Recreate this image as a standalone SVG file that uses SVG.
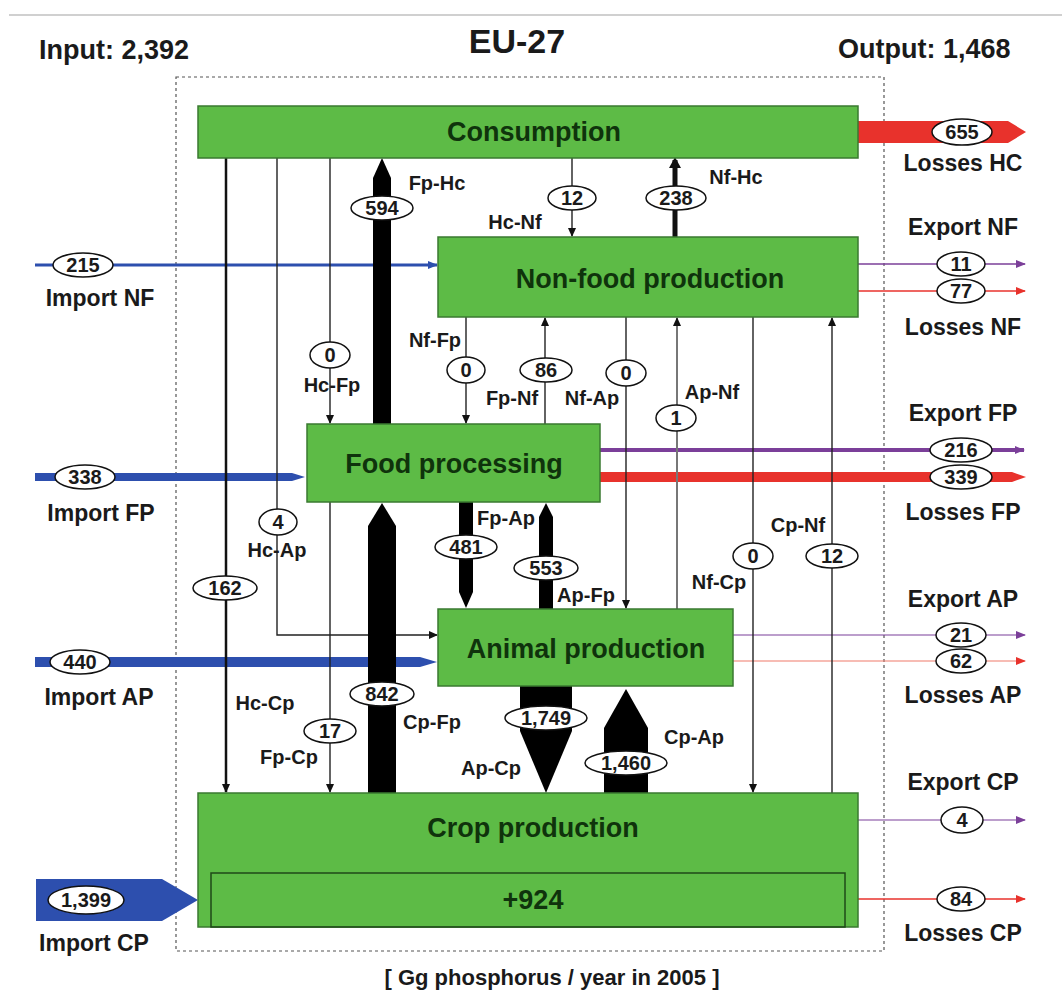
<svg xmlns="http://www.w3.org/2000/svg" width="1062" height="994" viewBox="0 0 1062 994">
<style>
text{font-family:"Liberation Sans",Arial,sans-serif;font-weight:bold;fill:#1a1a1a}
.hd{font-size:27px}
.node{fill:#5dbb46;stroke:#3a7a30;stroke-width:1.5}
.nt{font-size:27px;fill:#0f330c;text-anchor:middle}
.lab{font-size:20px;text-anchor:middle}
.side{font-size:23px;text-anchor:middle}
.ell{fill:#fff;stroke:#111;stroke-width:1.5}
.num{font-size:20px;text-anchor:middle}
.thin{stroke:#222;stroke-width:1.4;fill:none}
</style>
<defs>
<marker id="ak" markerUnits="userSpaceOnUse" markerWidth="9" markerHeight="9" refX="8" refY="4.5" orient="auto"><path d="M0,0.5 L9,4.5 L0,8.5 z" fill="#111"/></marker>
<marker id="ab" markerUnits="userSpaceOnUse" markerWidth="10" markerHeight="10" refX="9" refY="5" orient="auto"><path d="M0,1 L10,5 L0,9 z" fill="#2d4fae"/></marker>
<marker id="ap" markerUnits="userSpaceOnUse" markerWidth="10" markerHeight="10" refX="9" refY="5" orient="auto"><path d="M0,1 L10,5 L0,9 z" fill="#7b3f99"/></marker>
<marker id="ar" markerUnits="userSpaceOnUse" markerWidth="10" markerHeight="10" refX="9" refY="5" orient="auto"><path d="M0,1 L10,5 L0,9 z" fill="#e8322c"/></marker>
</defs>
<rect width="1062" height="994" fill="#fff"/>
<line x1="9" y1="15" x2="1062" y2="15" stroke="#d0d0d0" stroke-width="2"/>
<text class="hd" x="39" y="59">Input: 2,392</text>
<text x="517" y="53" style="font-size:34px" text-anchor="middle">EU-27</text>
<text class="hd" x="838" y="58">Output: 1,468</text>
<rect x="176" y="77" width="708" height="874" fill="none" stroke="#555" stroke-width="1.2" stroke-dasharray="3,3"/>

<g id="connectors">
<line x1="35" y1="265" x2="437" y2="265" stroke="#2d4fae" stroke-width="3" marker-end="url(#ab)"/>
<polygon points="35,473 292,473 305,477 292,481 35,481" fill="#2d4fae"/>
<polygon points="35,657 420,657 437,662 420,667 35,667" fill="#2d4fae"/>
<polygon points="36,879 162,879 198,900 162,921 36,921" fill="#2d4fae"/>
<polygon points="858,121 1008,121 1026,132 1008,143 858,143" fill="#e8322c"/>
<line x1="858" y1="264" x2="1025" y2="264" stroke="#7b3f99" stroke-width="1.3" marker-end="url(#ap)"/>
<line x1="858" y1="291" x2="1025" y2="291" stroke="#e8322c" stroke-width="1.3" marker-end="url(#ar)"/>
<line x1="600" y1="450" x2="1024" y2="450" stroke="#7b3f99" stroke-width="4" marker-end="url(#ap)"/>
<polygon points="600,472 1012,472 1026,477 1012,482 600,482" fill="#e8322c"/>
<line x1="733" y1="635" x2="1025" y2="635" stroke="#7b3f99" stroke-width="1.2" marker-end="url(#ap)"/>
<line x1="733" y1="661" x2="1025" y2="661" stroke="#f07a6a" stroke-width="1.2" marker-end="url(#ar)"/>
<line x1="858" y1="820" x2="1025" y2="820" stroke="#7b3f99" stroke-width="1.2" marker-end="url(#ap)"/>
<line x1="858" y1="899" x2="1025" y2="899" stroke="#e8322c" stroke-width="1.3" marker-end="url(#ar)"/>
<line x1="226" y1="158" x2="226" y2="792" stroke="#111" stroke-width="2.5" marker-end="url(#ak)"/>
<polyline points="277,158 277,635 437,635" class="thin" stroke="#444" marker-end="url(#ak)"/>
<line x1="330" y1="158" x2="330" y2="423" class="thin" marker-end="url(#ak)"/>
<line x1="330" y1="502" x2="330" y2="792" class="thin" marker-end="url(#ak)"/>
<line x1="572" y1="158" x2="572" y2="236" class="thin" marker-end="url(#ak)"/>
<line x1="675" y1="237" x2="675" y2="160" stroke="#111" stroke-width="5"/>
<polygon points="669,168 675,157 681,168" fill="#111"/>
<line x1="466" y1="317" x2="466" y2="423" class="thin" marker-end="url(#ak)"/>
<line x1="545" y1="424" x2="545" y2="318" class="thin" marker-end="url(#ak)"/>
<line x1="626" y1="317" x2="626" y2="608" class="thin" marker-end="url(#ak)"/>
<line x1="677" y1="609" x2="677" y2="318" stroke="#777" stroke-width="2" marker-end="url(#ak)"/>
<line x1="753" y1="317" x2="753" y2="792" class="thin" marker-end="url(#ak)"/>
<line x1="832" y1="793" x2="832" y2="318" class="thin" marker-end="url(#ak)"/>
<polygon points="373,424 373,178 382,158 391,178 391,424" fill="#000"/>
<polygon points="368,793 368,526 382,503 396,526 396,793" fill="#000"/>
<polygon points="459,502 459,592 466,608 473,592 473,502" fill="#000"/>
<polygon points="539,609 539,517 546,503 553,517 553,609" fill="#000"/>
<polygon points="520,686 572,686 572,731 546,793 520,731" fill="#000"/>
<polygon points="604,793 604,728 626,689 648,728 648,793" fill="#000"/>
</g>

<g id="consumption"><rect class="node" x="198" y="106" width="660" height="52"/><text class="nt" x="534" y="141">Consumption</text></g>
<g id="nonfood"><rect class="node" x="438" y="237" width="420" height="80"/><text class="nt" x="650" y="288">Non-food production</text></g>
<g id="foodproc"><rect class="node" x="307" y="424" width="293" height="78"/><text class="nt" x="454" y="473">Food processing</text></g>
<g id="animal"><rect class="node" x="438" y="609" width="295" height="77"/><text class="nt" x="586" y="658">Animal production</text></g>
<g id="crop"><rect class="node" x="198" y="793" width="660" height="134"/><text class="nt" x="533" y="837">Crop production</text>
<rect x="211" y="873" width="634" height="54" fill="none" stroke="#1f4a18" stroke-width="1.5"/><text class="nt" x="533" y="909">+924</text></g>

<g id="labels">
<g class="ell">
<ellipse cx="382" cy="208" rx="31" ry="12"/>
<ellipse cx="572" cy="198" rx="24" ry="12"/>
<ellipse cx="676" cy="198" rx="30" ry="12"/>
<ellipse cx="83" cy="265" rx="30" ry="12"/>
<ellipse cx="961" cy="264" rx="24" ry="12"/>
<ellipse cx="961" cy="291" rx="24" ry="12"/>
<ellipse cx="330" cy="355" rx="20" ry="13"/>
<ellipse cx="466" cy="370" rx="19" ry="13"/>
<ellipse cx="546" cy="370" rx="26" ry="12"/>
<ellipse cx="626" cy="373" rx="20" ry="13"/>
<ellipse cx="676" cy="418" rx="20" ry="13"/>
<ellipse cx="961" cy="450" rx="31" ry="12"/>
<ellipse cx="961" cy="477" rx="31" ry="12"/>
<ellipse cx="85" cy="477" rx="30" ry="12"/>
<ellipse cx="278" cy="522" rx="19" ry="13"/>
<ellipse cx="466" cy="547" rx="31" ry="12"/>
<ellipse cx="546" cy="568" rx="32" ry="12"/>
<ellipse cx="753" cy="556" rx="20" ry="13"/>
<ellipse cx="832" cy="556" rx="26" ry="12"/>
<ellipse cx="225" cy="588" rx="32" ry="12"/>
<ellipse cx="961" cy="635" rx="25" ry="12"/>
<ellipse cx="961" cy="661" rx="25" ry="12"/>
<ellipse cx="80" cy="662" rx="30" ry="12"/>
<ellipse cx="382" cy="694" rx="32" ry="12"/>
<ellipse cx="330" cy="731" rx="26" ry="12"/>
<ellipse cx="546" cy="718" rx="41" ry="12"/>
<ellipse cx="626" cy="763" rx="41" ry="12"/>
<ellipse cx="962" cy="820" rx="21" ry="13"/>
<ellipse cx="961" cy="899" rx="24" ry="12"/>
<ellipse cx="962" cy="132" rx="30" ry="13"/>
<ellipse cx="86" cy="900" rx="38" ry="14"/>
</g>
<text class="num" x="382" y="215">594</text>
<text class="num" x="572" y="205">12</text>
<text class="num" x="676" y="205">238</text>
<text class="num" x="83" y="272">215</text>
<text class="num" x="961" y="271">11</text>
<text class="num" x="961" y="298">77</text>
<text class="num" x="330" y="362">0</text>
<text class="num" x="466" y="377">0</text>
<text class="num" x="546" y="377">86</text>
<text class="num" x="626" y="380">0</text>
<text class="num" x="676" y="425">1</text>
<text class="num" x="961" y="457">216</text>
<text class="num" x="961" y="484">339</text>
<text class="num" x="85" y="484">338</text>
<text class="num" x="278" y="529">4</text>
<text class="num" x="466" y="554">481</text>
<text class="num" x="546" y="575">553</text>
<text class="num" x="753" y="563">0</text>
<text class="num" x="832" y="563">12</text>
<text class="num" x="225" y="595">162</text>
<text class="num" x="961" y="642">21</text>
<text class="num" x="961" y="668">62</text>
<text class="num" x="80" y="669">440</text>
<text class="num" x="382" y="701">842</text>
<text class="num" x="330" y="738">17</text>
<text class="num" x="546" y="725">1,749</text>
<text class="num" x="626" y="770">1,460</text>
<text class="num" x="962" y="827">4</text>
<text class="num" x="961" y="906">84</text>
<text class="num" x="962" y="139">655</text>
<text class="num" x="86" y="907">1,399</text>

<text class="lab" x="437" y="190">Fp-Hc</text>
<text class="lab" x="515" y="229">Hc-Nf</text>
<text class="lab" x="736" y="184">Nf-Hc</text>
<text class="lab" x="435" y="347">Nf-Fp</text>
<text class="lab" x="332" y="392">Hc-Fp</text>
<text class="lab" x="512" y="405">Fp-Nf</text>
<text class="lab" x="592" y="405">Nf-Ap</text>
<text class="lab" x="712" y="399">Ap-Nf</text>
<text class="lab" x="277" y="557">Hc-Ap</text>
<text class="lab" x="506" y="525">Fp-Ap</text>
<text class="lab" x="798" y="532">Cp-Nf</text>
<text class="lab" x="719" y="589">Nf-Cp</text>
<text class="lab" x="586" y="602">Ap-Fp</text>
<text class="lab" x="265" y="710">Hc-Cp</text>
<text class="lab" x="432" y="729">Cp-Fp</text>
<text class="lab" x="289" y="764">Fp-Cp</text>
<text class="lab" x="491" y="775">Ap-Cp</text>
<text class="lab" x="694" y="744">Cp-Ap</text>

<text class="side" x="100" y="306">Import NF</text>
<text class="side" x="101" y="521">Import FP</text>
<text class="side" x="99" y="705">Import AP</text>
<text class="side" x="94" y="951">Import CP</text>
<text class="side" x="963" y="171">Losses HC</text>
<text class="side" x="963" y="235">Export NF</text>
<text class="side" x="963" y="335">Losses NF</text>
<text class="side" x="963" y="421">Export FP</text>
<text class="side" x="963" y="520">Losses FP</text>
<text class="side" x="963" y="607">Export AP</text>
<text class="side" x="963" y="703">Losses AP</text>
<text class="side" x="963" y="790">Export CP</text>
<text class="side" x="963" y="941">Losses CP</text>
<text x="552" y="985" text-anchor="middle" style="font-size:22px">[ Gg phosphorus / year in 2005 ]</text>
</g>
</svg>
